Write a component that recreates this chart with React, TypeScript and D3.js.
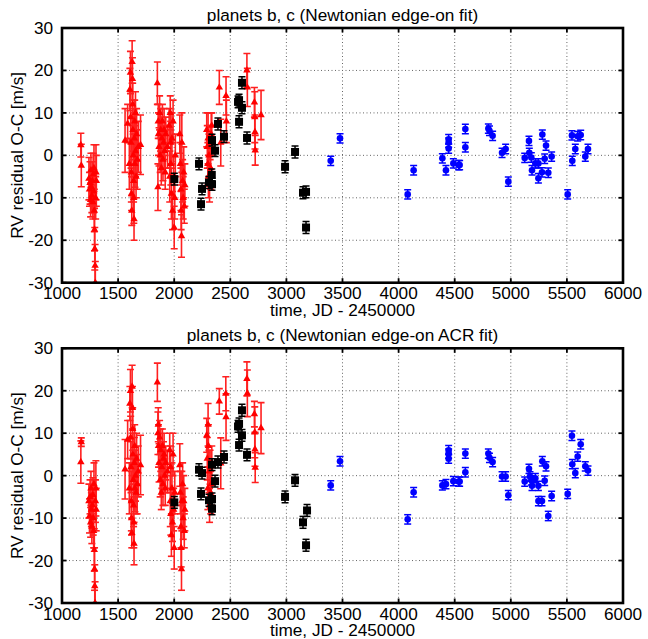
import React from "react";
import * as d3 from "d3";

type Pt = [number, number, number];

const xTicks = [1000, 1500, 2000, 2500, 3000, 3500, 4000, 4500, 5000, 5500, 6000];
const yTicks = [-30, -20, -10, 0, 10, 20, 30];
const titles = [
  "planets b, c (Newtonian edge-on fit)",
  "planets b, c (Newtonian edge-on ACR fit)",
];
const xLabel = "time, JD - 2450000";
const yLabel = "RV residual O-C [m/s]";

// ---------- Top panel ----------
const redTop: Pt[] = [
  [1168, 2.4, 2.8], [1172, -2.4, 5],
  [1240, -5.5, 5], [1245, -8, 4], [1250, -6.5, 5], [1255, -10.5, 4], [1258, -3.5, 4],
  [1262, -7.5, 4], [1266, -9.5, 4], [1270, -6, 4.5], [1275, -11, 4], [1278, -4.5, 5],
  [1282, -8.5, 5], [1285, -3, 5.5], [1288, -13, 5], [1290, -17.5, 5], [1292, -22, 5],
  [1295, -26, 5], [1297, -30, 5], [1300, -10, 5], [1303, -4, 6.5], [1306, -6, 6],
  [1562, 3.5, 7.5], [1585, 7.5, 4.5], [1600, -2, 6], [1605, 15.5, 5], [1610, 19.5, 5],
  [1612, 9, 6], [1615, 3, 6], [1618, -4, 7], [1620, -9, 4], [1622, -13, 3.5],
  [1625, 22, 5], [1628, 18, 5], [1630, 12, 5], [1632, 6, 5], [1635, 0, 5],
  [1638, -6, 5], [1640, -10, 6], [1642, -15, 5], [1645, 4, 6], [1648, 8, 5],
  [1650, -2, 5.5], [1655, 1, 6], [1660, -5, 5], [1665, 5, 6], [1670, -1, 7],
  [1680, 2, 6], [1700, 2.5, 7], [1655, 10, 5],
  [1850, 17, 5], [1855, -7.5, 5.5], [1858, 8, 4], [1860, 5, 5], [1865, 2, 4.5],
  [1870, 10, 4], [1875, 0, 4], [1880, 6, 5], [1885, -3, 4], [1890, 4, 5],
  [1895, 8, 4], [1900, -1, 5], [1905, 3, 4], [1910, 6, 5], [1915, 1, 4],
  [1920, -4, 4], [1925, 5, 4], [1940, 2, 5], [1955, 7, 4], [1960, -5, 6],
  [1965, 10, 4], [1968, 3, 5], [1970, -2, 5], [1975, -9, 6], [1980, 4, 6],
  [1985, -13, 4.5], [1990, 8, 5], [1995, -5, 5], [2000, -17, 5], [2005, -10, 5],
  [2010, 0, 5],
  [2050, 5, 4.5], [2055, -2, 5], [2060, -8, 5], [2062, -13, 4.5], [2065, -19, 5],
  [2068, 3, 7], [2075, -6, 5], [2080, -10, 5], [2085, -4, 6], [2090, -12, 4],
  [2095, -7, 5],
  [2290, 6, 4], [2295, 2, 5], [2300, -2, 5], [2302, 4, 6], [2305, -5, 5],
  [2310, 0, 5], [2315, -7, 4], [2320, 3, 4], [2325, -3, 5], [2330, 5, 5], [2335, 7, 3],
  [2402, 16, 4], [2415, 3, 5.5], [2462, 14, 4.5], [2465, 8, 5],
  [2648, 20, 4], [2652, 16, 4.5], [2715, 12.5, 3.5], [2718, 9, 6], [2720, 5.5, 4],
  [2722, 1.2, 3.5], [2774, 9.5, 5.8],
];
const blackTop: Pt[] = [
  [2001, -5.6, 1.4], [2221, -2.0, 1.4], [2239, -11.5, 1.4], [2248, -7.9, 1.4],
  [2310, -6.4, 1.4], [2337, -6.8, 1.4], [2335, -4.6, 1.4], [2337, 3.6, 1.4],
  [2364, 1.1, 1.4], [2390, 7.4, 1.4], [2444, 4.4, 1.4], [2569, 12.6, 1.4],
  [2578, 13.0, 1.4], [2578, 7.9, 1.4], [2604, 17.1, 1.4], [2604, 11.2, 1.4],
  [2649, 4.1, 1.4], [2988, -2.7, 1.4], [3077, 0.8, 1.4], [3148, -8.8, 1.4],
  [3175, -8.6, 1.4], [3175, -17.0, 1.4],
];
const blueTop: Pt[] = [
  [3395, -1.3, 1.1], [3478, 4.0, 1.1], [4081, -9.2, 1.1], [4134, -3.5, 1.1],
  [4390, -0.7, 1.1], [4422, -3.5, 1.1], [4446, 1.6, 1.1], [4446, 3.0, 1.1],
  [4446, 3.8, 1.1], [4488, -1.9, 1.1], [4535, -2.3, 1.1], [4544, -2.3, 1.1],
  [4595, 6.2, 1.1], [4595, 1.9, 1.1], [4800, 6.3, 1.1], [4810, 5.8, 1.1],
  [4838, 4.6, 1.1], [4922, 0.6, 1.1], [4954, 1.5, 1.1], [4978, -6.2, 1.1],
  [5124, -0.6, 1.1], [5162, 3.4, 1.1], [5165, 0.6, 1.1], [5183, -0.5, 1.1],
  [5189, -3.5, 1.1], [5219, -1.9, 1.1], [5246, -1.9, 1.1], [5246, -5.4, 1.1],
  [5278, -4.0, 1.1], [5281, 4.9, 1.1], [5302, -0.8, 1.1], [5314, 2.3, 1.1],
  [5334, -4.1, 1.1], [5364, -0.3, 1.1], [5507, -9.2, 1.1], [5545, 4.7, 1.1],
  [5548, -1.3, 1.1], [5575, 1.5, 1.1], [5596, 4.5, 1.1], [5623, 4.8, 1.1],
  [5664, -0.3, 1.1], [5688, 1.5, 1.1],
];

// ---------- Bottom panel ----------
const redBot: Pt[] = [
  [1168, 3.2, 5], [1172, 7.9, 1],
  [1240, -6, 4], [1245, -9.5, 4], [1250, -5, 4], [1255, -11, 3.5], [1258, -3, 4],
  [1262, -8, 4], [1266, -12, 4], [1270, -7, 4], [1275, -4.5, 4], [1278, -10, 4],
  [1282, -13, 4], [1285, -2, 5], [1288, -17.5, 5], [1290, -22, 5], [1292, -26, 5],
  [1295, -30, 5], [1298, -6, 5], [1302, -3, 6.5], [1305, -8, 5],
  [1562, 1.5, 7], [1585, 8.5, 4.5], [1600, -3, 6], [1605, 17, 4], [1610, 20, 5],
  [1612, 9, 5], [1615, 2, 6], [1618, -6, 7], [1620, -10, 4], [1622, -13.5, 3.5],
  [1625, 21, 5], [1628, 16, 5], [1630, 11, 5], [1632, 5, 5], [1635, -1, 5],
  [1638, -7, 5], [1640, -11, 6], [1642, -16, 5], [1645, 3, 6], [1648, 7, 5],
  [1650, -3, 5.5], [1655, 0, 6], [1660, -4, 5], [1665, 4, 6], [1670, -2, 7],
  [1680, 1, 6], [1700, 2.5, 7],
  [1850, 22, 4.5], [1855, 10, 5], [1858, 12, 4], [1860, 7, 5], [1865, 3, 4.5],
  [1870, 9, 4], [1875, -1, 4], [1880, 6, 5], [1885, -4, 4], [1890, 2, 5],
  [1895, 7, 4], [1900, -2, 5], [1905, 4, 4], [1910, 5, 5], [1915, 0, 4],
  [1920, -3, 4], [1925, 3, 4], [1940, 1, 5], [1960, 6, 4], [1965, -6, 6],
  [1968, 2, 5], [1970, -9, 5], [1975, -14, 5], [1980, -3, 6], [1985, -11, 4.5],
  [1990, 5, 5], [1995, -8, 5], [2000, -17, 5], [2005, -4, 5],
  [2050, 2.5, 5], [2055, -4, 5], [2060, -12, 5], [2062, -17, 4.5], [2065, -22, 5],
  [2068, -6, 7], [2075, -2, 5], [2080, -10, 5], [2085, -6, 6], [2090, -13, 4],
  [2095, -8, 5],
  [2290, 9.5, 4], [2295, 4, 5], [2300, -3, 5], [2302, 12, 5], [2305, 7, 5],
  [2310, 1, 5], [2315, -7, 4], [2320, 2, 4], [2325, -4, 5], [2330, -2, 5], [2335, 3, 4],
  [2402, 17.5, 3], [2415, 2.9, 6], [2460, 19.3, 4], [2462, 13.8, 5.5],
  [2648, 22.8, 4], [2652, 19.4, 5.5], [2715, 14.5, 3], [2718, 10.2, 6], [2720, 6.2, 4],
  [2722, 1.9, 3.5], [2774, 11.2, 6],
];
const blackBot: Pt[] = [
  [2001, -6.3, 1.4], [2221, 1.4, 1.4], [2239, -4.3, 1.4], [2248, 0.6, 1.4],
  [2310, -5.8, 1.4], [2337, -5.5, 1.4], [2337, -7.8, 1.4], [2337, 2.6, 1.4],
  [2364, -1.3, 1.4], [2390, 3.2, 1.4], [2444, 4.4, 1.4], [2569, 11.6, 1.4],
  [2578, 12.2, 1.4], [2578, 7.2, 1.4], [2604, 15.4, 1.4], [2604, 9.5, 1.4],
  [2649, 4.9, 1.4], [2988, -5.0, 1.4], [3077, -1.1, 1.4], [3148, -11.0, 1.4],
  [3184, -8.2, 1.4], [3175, -16.4, 1.4],
];
const blueBot: Pt[] = [
  [3395, -2.3, 1.1], [3478, 3.4, 1.1], [4081, -10.3, 1.1], [4134, -3.9, 1.1],
  [4390, -2.3, 1.1], [4422, -2.0, 1.1], [4446, 4.0, 1.1], [4446, 5.2, 1.1],
  [4446, 6.0, 1.1], [4488, -1.3, 1.1], [4535, -1.4, 1.1], [4544, -1.4, 1.1],
  [4595, 5.2, 1.1], [4595, 0.8, 1.1], [4800, 5.2, 1.1], [4810, 4.2, 1.1],
  [4838, 3.2, 1.1], [4922, -0.2, 1.1], [4954, -0.2, 1.1], [4978, -4.6, 1.1],
  [5124, -1.4, 1.1], [5162, 1.6, 1.1], [5171, -0.2, 1.1], [5183, -1.1, 1.1],
  [5189, -2.4, 1.1], [5219, -0.6, 1.1], [5246, -2.4, 1.1], [5246, -6.0, 1.1],
  [5278, -6.0, 1.1], [5281, 3.4, 1.1], [5302, -1.2, 1.1], [5314, 2.2, 1.1],
  [5334, -9.5, 1.1], [5364, -4.8, 1.1], [5507, -4.3, 1.1], [5545, 9.4, 1.1],
  [5548, 2.7, 1.1], [5575, 0.6, 1.1], [5596, 4.5, 1.1], [5623, 7.4, 1.1],
  [5664, 2.2, 1.1], [5688, 1.2, 1.1],
];

const FONT = "'Liberation Sans', Arial, Helvetica, sans-serif";
const LEFT = 62, RIGHT = 623;
const PH = 254.7;
const FS = 17.2;

function Panel({ top, title, red, black, blue }: { top: number; title: string; red: Pt[]; black: Pt[]; blue: Pt[] }) {
  const x = d3.scaleLinear().domain([1000, 6000]).range([LEFT, RIGHT]);
  const y = d3.scaleLinear().domain([-30, 30]).range([top + PH, top]);
  const clipId = `clip${Math.round(top)}`;
  const cap = 3.5;
  const bar = (p: Pt, color: string, i: number, w: number) => {
    const cx = x(p[0]);
    const y1 = y(p[1] + p[2]);
    const y2 = y(p[1] - p[2]);
    return (
      <g key={i} stroke={color} strokeWidth={w}>
        <line x1={cx} x2={cx} y1={y1} y2={y2} />
        <line x1={cx - cap} x2={cx + cap} y1={y1} y2={y1} />
        <line x1={cx - cap} x2={cx + cap} y1={y2} y2={y2} />
      </g>
    );
  };
  const tri = d3.symbol().type(d3.symbolTriangle).size(24)();
  return (
    <g>
      <defs>
        <clipPath id={clipId}>
          <rect x={LEFT} y={top} width={RIGHT - LEFT} height={PH} />
        </clipPath>
      </defs>
      <g stroke="#666" strokeWidth={1} strokeDasharray="1,2.5">
        {xTicks.slice(1, -1).map((t) => (
          <line key={t} x1={x(t)} x2={x(t)} y1={top} y2={top + PH} />
        ))}
        {yTicks.slice(1, -1).map((t) => (
          <line key={t} x1={LEFT} x2={RIGHT} y1={y(t)} y2={y(t)} />
        ))}
      </g>
      <g clipPath={`url(#${clipId})`}>
        {red.map((p, i) => bar(p, "#ff2020", i, 1.6))}
        {red.map((p, i) => (
          <path key={"t" + i} d={tri!} transform={`translate(${x(p[0])},${y(p[1])})`} fill="#ff0000" />
        ))}
        {black.map((p, i) => bar(p, "#000", i, 1.5))}
        {black.map((p, i) => (
          <rect key={"s" + i} x={x(p[0]) - 4} y={y(p[1]) - 4} width={8} height={8} fill="#000" />
        ))}
        {blue.map((p, i) => bar(p, "#0000ff", i, 1.5))}
        {blue.map((p, i) => (
          <circle key={"c" + i} cx={x(p[0])} cy={y(p[1])} r={3.3} fill="#0000ff" />
        ))}
      </g>
      <g stroke="#000" strokeWidth={1.8}>
        {xTicks.map((t) => (
          <g key={t}>
            <line x1={x(t)} x2={x(t)} y1={top + PH} y2={top + PH - 4.5} />
            <line x1={x(t)} x2={x(t)} y1={top} y2={top + 4.5} />
          </g>
        ))}
        {yTicks.map((t) => (
          <g key={t}>
            <line x1={LEFT} x2={LEFT + 4.5} y1={y(t)} y2={y(t)} />
            <line x1={RIGHT} x2={RIGHT - 4.5} y1={y(t)} y2={y(t)} />
          </g>
        ))}
      </g>
      <rect x={LEFT} y={top} width={RIGHT - LEFT} height={PH} fill="none" stroke="#000" strokeWidth={2.6} />
      <g fontFamily={FONT} fontSize={FS} fill="#000">
        {xTicks.map((t) => (
          <text key={t} x={x(t)} y={top + PH + 16.5} textAnchor="middle">{t}</text>
        ))}
        {yTicks.map((t) => (
          <text key={t} x={LEFT - 9} y={y(t) + 6} textAnchor="end">{t}</text>
        ))}
      </g>
      <text x={(LEFT + RIGHT) / 2} y={top - 7} textAnchor="middle" fontFamily={FONT} fontSize={FS}>{title}</text>
      <text x={(LEFT + RIGHT) / 2} y={top + PH + 33} textAnchor="middle" fontFamily={FONT} fontSize={FS}>{xLabel}</text>
      <text transform={`translate(23,${top + PH / 2}) rotate(-90)`} textAnchor="middle" fontFamily={FONT} fontSize={FS}>{yLabel}</text>
    </g>
  );
}

export default function App() {
  return (
    <svg width={648} height={639} style={{ position: "absolute", left: 0, top: 0, background: "#fff" }}>
      <rect width={648} height={639} fill="#fff" />
      <Panel top={28} title={titles[0]} red={redTop} black={blackTop} blue={blueTop} />
      <Panel top={348.3} title={titles[1]} red={redBot} black={blackBot} blue={blueBot} />
    </svg>
  );
}
